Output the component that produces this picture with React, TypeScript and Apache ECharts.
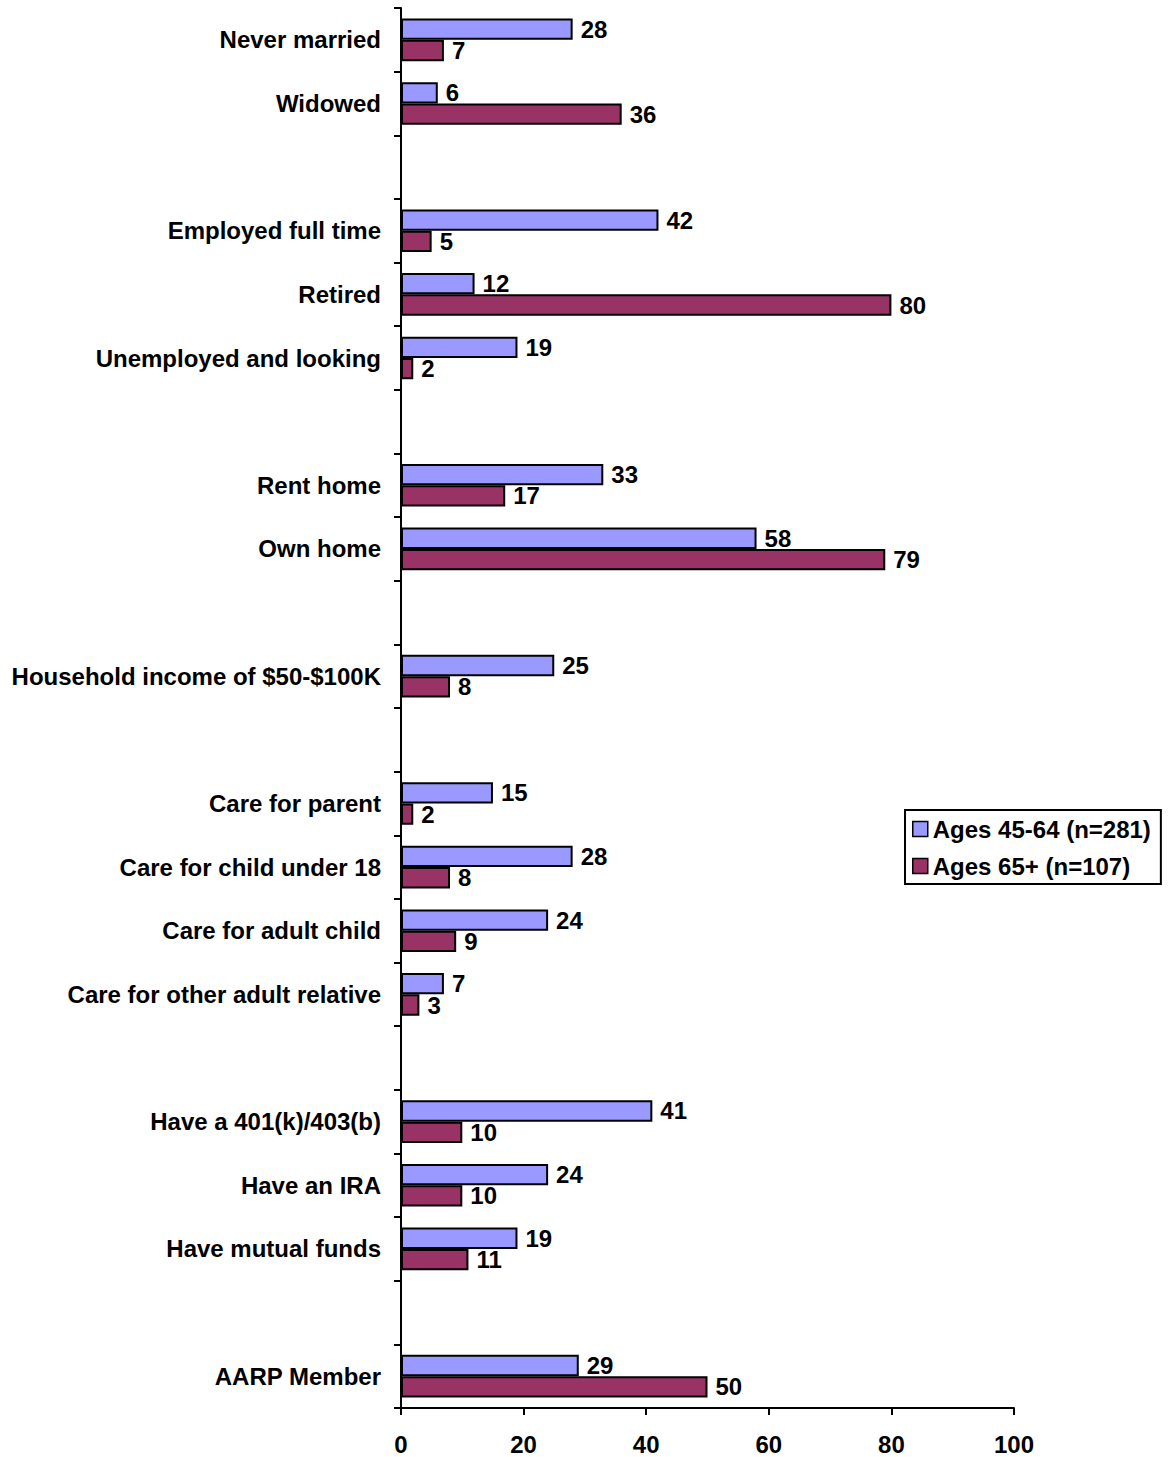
import React, { useEffect, useRef } from "react";
import * as echarts from "echarts";

const categories = [
  "Never married",
  "Widowed",
  " ",
  "Employed full time",
  "Retired",
  "Unemployed and looking",
  "  ",
  "Rent home",
  "Own home",
  "   ",
  "Household income of $50-$100K",
  "    ",
  "Care for parent",
  "Care for child under 18",
  "Care for adult child",
  "Care for other adult relative",
  "     ",
  "Have a 401(k)/403(b)",
  "Have an IRA",
  "Have mutual funds",
  "      ",
  "AARP Member",
];

const ages45to64 = [28, 6, null, 42, 12, 19, null, 33, 58, null, 25, null, 15, 28, 24, 7, null, 41, 24, 19, null, 29];
const ages65plus = [7, 36, null, 5, 80, 2, null, 17, 79, null, 8, null, 2, 8, 9, 3, null, 10, 10, 11, null, 50];

const seriesNames = ["Ages 45-64 (n=281)", "Ages 65+ (n=107)"];
const xTicks = { min: 0, max: 100, interval: 20 };

const FONT = "Liberation Sans, Arial, sans-serif";
const FS = 24;

export default function App() {
  const ref = useRef<HTMLDivElement>(null);
  useEffect(() => {
    document.body.style.margin = "0";
    const chart = echarts.init(ref.current!, null, { renderer: "svg" });
    const label = {
      show: true,
      position: "right",
      distance: 8,
      color: "#000",
      fontFamily: FONT,
      fontWeight: "bold",
      fontSize: FS,
    };
    chart.setOption({
      animation: false,
      textStyle: { fontFamily: FONT },
      grid: { left: 401, right: 155, top: 8, bottom: 49, containLabel: false },
      legend: {
        orient: "vertical",
        left: 905,
        top: 810,
        backgroundColor: "#fff",
        borderColor: "#000",
        borderWidth: 2,
        borderRadius: 0,
        padding: [7, 10, 6, 7],
        itemWidth: 15,
        itemHeight: 15,
        itemGap: 13,
        icon: "rect",
        itemStyle: { borderColor: "#000", borderWidth: 1.5 },
        textStyle: { fontFamily: FONT, fontWeight: "bold", fontSize: FS, color: "#000" },
        data: seriesNames,
      },
      xAxis: {
        type: "value",
        min: xTicks.min,
        max: xTicks.max,
        interval: xTicks.interval,
        splitLine: { show: false },
        axisLine: { show: true, lineStyle: { color: "#000", width: 2 } },
        axisTick: { show: true, length: 7, lineStyle: { color: "#000", width: 2 } },
        axisLabel: { color: "#000", fontFamily: FONT, fontWeight: "bold", fontSize: FS, margin: 24 },
      },
      yAxis: {
        type: "category",
        inverse: true,
        data: categories,
        axisLine: { show: true, lineStyle: { color: "#000", width: 2 } },
        axisTick: { show: true, length: 7, interval: 0, lineStyle: { color: "#000", width: 2 } },
        axisLabel: { interval: 0, color: "#000", fontFamily: FONT, fontWeight: "bold", fontSize: FS, margin: 20 },
      },
      series: [
        {
          name: seriesNames[0],
          type: "bar",
          data: ages45to64,
          barGap: "0%",
          barCategoryGap: "33%",
          itemStyle: { color: "#9999FF", borderColor: "#000", borderWidth: 2 },
          label,
        },
        {
          name: seriesNames[1],
          type: "bar",
          data: ages65plus,
          barGap: "0%",
          barCategoryGap: "33%",
          itemStyle: { color: "#993366", borderColor: "#000", borderWidth: 2 },
          label,
        },
      ],
    });
    return () => chart.dispose();
  }, []);
  return <div ref={ref} style={{ width: 1169, height: 1457 }} />;
}
